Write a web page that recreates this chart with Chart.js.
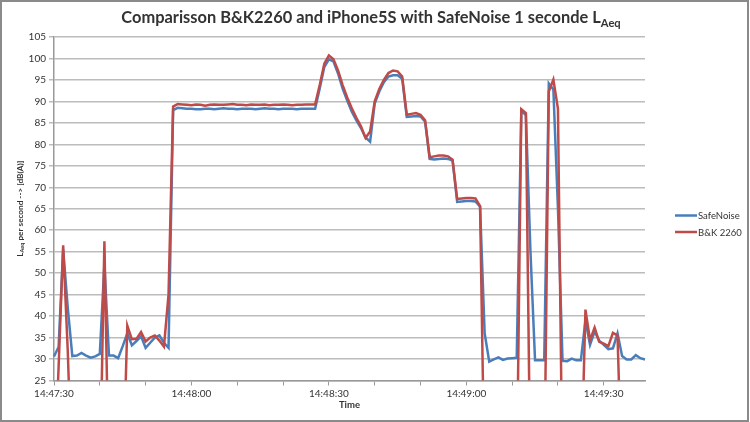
<!DOCTYPE html>
<html>
<head>
<meta charset="utf-8">
<script src="https://cdn.jsdelivr.net/npm/chart.js@4.4.1/dist/chart.umd.min.js"></script>
<style>
html,body{margin:0;padding:0;background:#fff;}
#wrap{width:750px;height:422px;position:relative;}
canvas{display:block;}
</style>
</head>
<body>
<div id="wrap"><canvas id="c" width="750" height="422"></canvas></div>
<script>
// ---- data ----
const startTime = "14:47:30";
const pointCount = 130;
const xTickLabels = ["14:47:30", "14:48:00", "14:48:30", "14:49:00", "14:49:30"];
const seriesNames = ["SafeNoise", "B&K 2260"];

const safeNoise = [
  30.6, 32.8, 55.5, 42, 30.7, 30.8, 31.4, 30.8, 30.3, 30.6,
  31.2, 52, 30.8, 30.8, 30.2, 33, 36, 33.2, 34.2, 35.3,
  32.6, 33.8, 35, 35.5, 33.8, 32.6, 88.0, 88.5, 88.4, 88.3,
  88.3, 88.2, 88.2, 88.3, 88.3, 88.2, 88.3, 88.4, 88.3, 88.3,
  88.2, 88.3, 88.3, 88.3, 88.2, 88.3, 88.4, 88.3, 88.3, 88.2,
  88.3, 88.3, 88.3, 88.2, 88.3, 88.3, 88.3, 88.3, 93, 98,
  99.8, 99.3, 96.5, 93, 90.2, 87.6, 85.6, 83.8, 81.6, 80.6,
  89.5, 92.3, 94.5, 95.8, 96.1, 96.1, 95.3, 86.4, 86.5, 86.6,
  86.5, 85.3, 76.6, 76.5, 76.6, 76.7, 76.6, 76.2, 66.6, 66.7,
  66.8, 66.8, 66.7, 65.5, 36, 29.4, 29.9, 30.4, 29.8, 30.1,
  30.2, 30.3, 87.8, 86.8, 55, 29.7, 29.7, 29.7, 94.2, 92.8,
  65, 29.6, 29.5, 30.1, 29.7, 29.7, 39, 33.3, 36.4, 34.3,
  33.3, 32.3, 32.5, 36, 30.7, 29.9, 29.9, 30.9, 30.2, 29.9
];

const bk2260 = [
  0, 28, 56.5, 32, 0, 0, 0, 0, 0, 0,
  0, 57.4, 0, 0, 0, 0, 37.8, 34.6, 34.7, 36.3,
  34.1, 35, 35.5, 34.3, 32.9, 45, 88.8, 89.4, 89.3, 89.2,
  89.1, 89.3, 89.2, 89.0, 89.2, 89.3, 89.2, 89.2, 89.3, 89.4,
  89.2, 89.2, 89.1, 89.3, 89.2, 89.2, 89.3, 89.1, 89.2, 89.2,
  89.3, 89.2, 89.1, 89.2, 89.2, 89.3, 89.3, 89.3, 93.8, 98.8,
  100.7, 99.8, 97.2, 93.8, 90.9, 88.4, 86.2, 84.2, 81.5, 83,
  90, 92.9, 95, 96.6, 97.2, 97, 95.8, 86.9, 87.1, 87.3,
  86.9, 85.6, 77, 77.2, 77.4, 77.4, 77.2, 76.4, 67.3, 67.4,
  67.5, 67.5, 67.4, 65.6, 0, 0, 0, 0, 0, 0,
  0, 0, 88.2, 87.3, 0, 0, 0, 0, 92.3, 95.1,
  88.3, 0, 0, 0, 0, 0, 41.5, 34.4, 37.3, 34,
  33.6, 33, 36.1, 35.5, 0, 0, 0, 0, 0, 0
];

// time categories, one per second
function buildTimes(start, n) {
  const p = start.split(':').map(Number);
  let s = p[0] * 3600 + p[1] * 60 + p[2];
  const out = [];
  for (let i = 0; i < n; i++, s++) {
    const h = Math.floor(s / 3600), m = Math.floor((s % 3600) / 60), sec = s % 60;
    out.push(h + ':' + String(m).padStart(2, '0') + ':' + String(sec).padStart(2, '0'));
  }
  return out;
}
const timeLabels = buildTimes(startTime, pointCount);

// ---- styling ----
const FONT = 'Lato, "Open Sans", "DejaVu Sans", sans-serif';
const TEXT = '#333333';
const GRID = '#bcbcbc';
const AXIS = '#999999';
const BLUE = '#4A7EBB';
const RED = '#BE4B48';

function richWidth(ctx, parts, size) {
  let w = 0;
  for (const p of parts) {
    ctx.font = 'bold ' + (p.sub ? size * 0.68 : size) + 'px ' + FONT;
    w += ctx.measureText(p.t).width;
  }
  return w;
}
function drawRich(ctx, parts, cx, cy, size) {
  const w = richWidth(ctx, parts, size);
  let x = cx - w / 2;
  ctx.fillStyle = TEXT;
  ctx.textBaseline = 'middle';
  ctx.textAlign = 'left';
  for (const p of parts) {
    const s = p.sub ? size * 0.68 : size;
    ctx.font = 'bold ' + s + 'px ' + FONT;
    ctx.fillText(p.t, x, cy + (p.sub ? size * 0.32 : 0));
    x += ctx.measureText(p.t).width;
  }
}
function fitSize(ctx, parts, target) {
  return 20 * target / richWidth(ctx, parts, 20);
}

const decor = {
  id: 'decor',
  beforeDraw(chart) {
    const ctx = chart.ctx;
    ctx.save();
    ctx.fillStyle = '#ffffff';
    ctx.fillRect(0, 0, chart.width, chart.height);
    ctx.restore();
  },
  afterDraw(chart) {
    const ctx = chart.ctx;
    const ca = chart.chartArea;
    ctx.save();
    // title
    const titleParts = [{t: 'Comparisson B&K2260 and iPhone5S with SafeNoise 1 seconde L'}, {t: 'Aeq', sub: true}];
    drawRich(ctx, titleParts, 371, 18, fitSize(ctx, titleParts, 500));
    // y axis title
    const yParts = [{t: 'L'}, {t: 'Aeq', sub: true}, {t: ' per second --> [dB(A)]'}];
    ctx.save();
    ctx.translate(20, (ca.top + ca.bottom) / 2);
    ctx.rotate(-Math.PI / 2);
    drawRich(ctx, yParts, 0, 0, fitSize(ctx, yParts, 96));
    ctx.restore();
    // x axis title
    ctx.font = 'bold 9.5px ' + FONT;
    ctx.fillStyle = TEXT;
    ctx.textAlign = 'center';
    ctx.textBaseline = 'middle';
    ctx.fillText('Time', (ca.left + ca.right) / 2, 405);
    // legend
    const ds = chart.data.datasets;
    const ys = [215.5, 232];
    ds.forEach((d, k) => {
      ctx.strokeStyle = d.borderColor;
      ctx.lineWidth = 2.5;
      ctx.beginPath();
      ctx.moveTo(675, ys[k]);
      ctx.lineTo(697, ys[k]);
      ctx.stroke();
      ctx.font = '9.5px ' + FONT;
      ctx.fillStyle = TEXT;
      ctx.textAlign = 'left';
      ctx.textBaseline = 'middle';
      ctx.fillText(d.label, 698, ys[k] + 0.5);
    });
    // outer frame
    ctx.strokeStyle = '#8a8a8a';
    ctx.lineWidth = 2;
    ctx.strokeRect(1, 1, chart.width - 3, chart.height - 2);
    ctx.restore();
  }
};

new Chart(document.getElementById('c'), {
  type: 'line',
  data: {
    labels: timeLabels,
    datasets: [
      {label: seriesNames[0], data: safeNoise, borderColor: BLUE, backgroundColor: BLUE,
       borderWidth: 2.5, pointRadius: 0, tension: 0, order: 1},
      {label: seriesNames[1], data: bk2260, borderColor: RED, backgroundColor: RED,
       borderWidth: 2.5, pointRadius: 0, tension: 0, order: 0}
    ]
  },
  options: {
    responsive: false,
    animation: false,
    devicePixelRatio: 1,
    layout: {padding: {top: 37, right: 105, bottom: 0, left: 0}},
    plugins: {legend: {display: false}, title: {display: false}, tooltip: {enabled: false}},
    scales: {
      x: {
        type: 'category',
        offset: false,
        afterFit: (s) => { s.height = 41.5; },
        grid: {
          drawOnChartArea: false, drawTicks: true, tickLength: 5, lineWidth: 1,
          color: (c) => (c.index % 10 === 0 ? AXIS : 'rgba(0,0,0,0)')
        },
        border: {display: true, color: AXIS, width: 1.5},
        ticks: {
          autoSkip: false, maxRotation: 0, minRotation: 0, padding: 2,
          color: TEXT, font: {family: FONT, size: 10},
          callback: function (v) {
            const lab = this.getLabelForValue(v);
            return xTickLabels.includes(lab) ? lab : '';
          }
        }
      },
      y: {
        min: 25, max: 105,
        afterFit: (s) => { s.width = 54; },
        grid: {color: GRID, lineWidth: 1.5, tickLength: 5, drawTicks: true},
        border: {display: true, color: AXIS, width: 1.5},
        ticks: {stepSize: 5, padding: 3, color: TEXT, font: {family: FONT, size: 10}}
      }
    }
  },
  plugins: [decor]
});
</script>
</body>
</html>
